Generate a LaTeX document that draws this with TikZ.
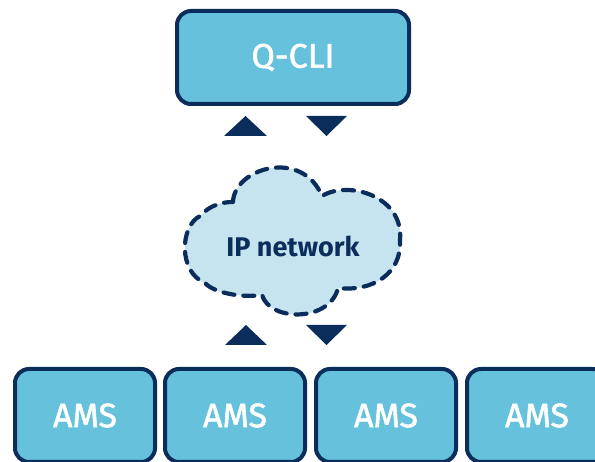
\documentclass[tikz,border=0pt]{standalone}
\usepackage{fontspec}
\setmainfont{Fira Sans}
\newfontfamily\unitfont{Fira Sans}[FakeBold=1.6]
\definecolor{navy}{HTML}{0B2D5B}
\definecolor{boxblue}{HTML}{66C2DC}
\definecolor{cloudblue}{HTML}{C5E4EF}

\begin{document}
\begin{tikzpicture}[x=1pt, y=-1pt,
    unit/.style={draw=navy, line width=4pt, fill=boxblue, rounded corners=14pt,
        minimum height=93pt, text=white, font=\unitfont\fontsize{34}{36}\selectfont},
    cloudline/.style={draw=navy, fill=cloudblue, line width=4.2pt,
        dash pattern=on 11pt off 9pt, line cap=round}]
    \clip (0,0) rectangle (595,462);

    % client on top
    \node[unit, minimum width=232pt] (qcli) at (293,57.5) {Q-CLI};

    % the network cloud
    \draw[cloudline] (233,202) .. controls (234,168) and (302,148) .. (322,196)
        .. controls (348,180) and (404,196) .. (400,240)
        .. controls (402,274) and (372,292) .. (338,288)
        .. controls (330,322) and (270,322) .. (262,295)
        .. controls (242,298) and (214,293) .. (205,283)
        .. controls (178,272) and (180,226) .. (200,216)
        .. controls (210,205) and (222,202) .. (233,202) -- cycle;
    \node[text=navy, font=\fontsize{27}{30}\selectfont\bfseries] (net) at (293,246) {IP network};

    % the four AMS units
    \node[unit, minimum width=140pt] (ams1) at (85,415.5) {AMS};
    \node[unit, minimum width=140pt] (ams2) at (235,415.5) {AMS};
    \node[unit, minimum width=140pt] (ams3) at (386,415.5) {AMS};
    \node[unit, minimum width=140pt] (ams4) at (537,415.5) {AMS};

    % traffic in both directions
    \fill[navy] (224,136) -- (245.5,116) -- (267,136) -- cycle;
    \fill[navy] (306,116) -- (347,116) -- (326.5,136) -- cycle;
    \fill[navy] (225,345) -- (246,325) -- (267,345) -- cycle;
    \fill[navy] (306,325) -- (347,325) -- (326.5,345) -- cycle;
\end{tikzpicture}
\end{document}
